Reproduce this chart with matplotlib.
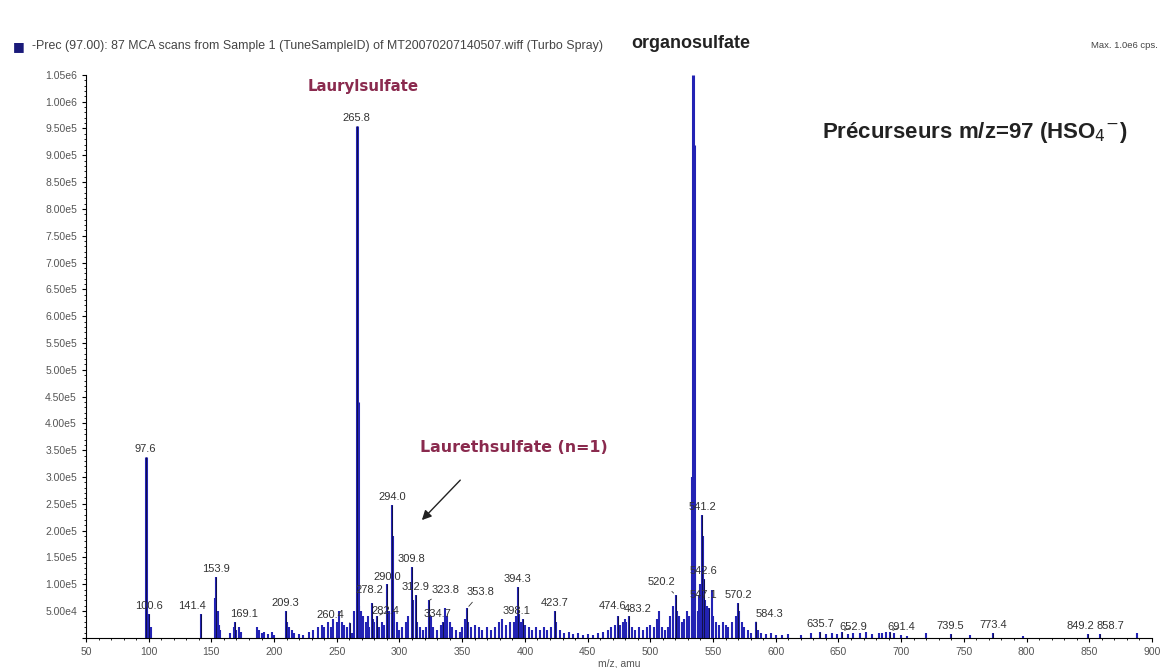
import matplotlib.pyplot as plt
from matplotlib.ticker import MultipleLocator, FuncFormatter

# precursor-ion spectrum (m/z, intensity in cps)
mz = [
    97.6, 98.6, 99.6, 100.6, 101.5,
    141.4, 152.9, 153.9, 154.9, 155.9, 157.0,
    165.0, 168.0, 169.1, 170.0, 172.0, 174.0,
    186.0, 188.0, 190.0, 192.0, 195.0, 198.0, 200.0,
    209.3, 210.3, 212.0, 214.0, 216.0, 220.0, 223.0, 228.0, 231.0, 235.0,
    238.0, 240.0, 243.0, 245.0, 247.0, 250.0, 252.0, 254.0, 256.0, 258.0,
    260.4, 262.0, 264.0,
    265.8, 266.8, 267.8, 269.0, 271.0, 273.0, 275.0, 276.0, 278.2, 279.0,
    280.0, 282.4, 284.0, 286.0, 288.0, 290.0, 291.0, 292.0, 294.0, 295.0,
    296.0, 298.0, 300.0, 302.0, 305.0, 307.0, 309.8, 310.8, 312.9, 314.0,
    316.0, 319.0, 321.0, 323.8, 324.8, 327.0, 330.0, 333.0, 334.7, 336.0,
    338.0, 340.0, 342.0, 345.0, 348.0, 350.0, 352.0, 353.8, 355.0, 357.0,
    360.0, 363.0, 366.0, 370.0, 373.0, 376.0, 379.0, 382.0, 385.0, 388.0,
    391.0, 393.0, 394.3, 395.3, 397.0, 398.1, 400.0, 403.0, 406.0, 409.0,
    412.0, 415.0, 418.0, 421.0, 423.7, 425.0, 428.0, 431.0, 435.0, 438.0,
    442.0, 446.0, 450.0, 454.0, 458.0, 462.0, 466.0, 469.0, 472.0, 474.6,
    476.0, 478.0, 480.0, 481.0, 483.2, 485.0, 488.0, 491.0, 494.0, 497.0,
    500.0, 503.0, 505.0, 507.0, 509.0, 512.0, 514.0, 516.0, 518.0, 520.2,
    521.0, 523.0, 525.0, 527.0, 529.0, 531.0, 533.0, 534.0, 534.5, 536.0,
    538.0, 539.0, 540.0, 541.2, 542.0, 542.6, 543.5, 545.0, 547.1, 549.0,
    550.0, 552.0, 555.0, 558.0, 560.0, 562.0, 565.0, 568.0, 570.2, 571.0,
    573.0, 575.0, 578.0, 580.0, 584.3, 586.0, 588.0, 592.0, 596.0, 600.0,
    605.0, 610.0, 620.0, 628.0, 635.7, 640.0, 645.0, 649.0, 652.9, 658.0,
    662.0, 667.0, 672.0, 677.0, 682.0, 685.0, 688.0, 691.4, 694.0, 700.0,
    705.0, 720.0, 739.5, 755.0, 773.4, 797.0, 849.2, 858.7, 888.0,
]
intensity = [
    3.38e5, 5.0e4, 3.0e4, 4.5e4, 2.0e4,
    4.5e4, 7.5e4, 1.14e5, 5.0e4, 2.5e4, 1.5e4,
    1.0e4, 2.0e4, 3.0e4, 1.5e4, 2.0e4, 1.2e4,
    2.0e4, 1.5e4, 1.0e4, 1.2e4, 8.0e3, 1.2e4, 6.0e3,
    5.0e4, 3.0e4, 2.0e4, 1.5e4, 1.0e4, 8.0e3, 6.0e3, 1.2e4, 1.5e4, 2.0e4,
    2.5e4, 2.0e4, 3.0e4, 2.0e4, 3.5e4, 3.0e4, 5.0e4, 3.0e4, 2.5e4, 2.0e4,
    2.8e4, 1.0e4, 5.0e4,
    9.55e5, 4.4e5, 6.0e4, 5.0e4, 4.0e4, 3.0e4, 4.0e4, 2.0e4, 6.5e4, 3.5e4,
    3.0e4, 4.0e4, 2.0e4, 3.0e4, 2.5e4, 1.0e5, 4.0e4, 5.0e4, 2.48e5, 1.9e5,
    5.0e4, 3.0e4, 1.5e4, 2.0e4, 3.0e4, 4.0e4, 1.32e5, 7.0e4, 8.0e4, 3.0e4,
    2.0e4, 1.5e4, 2.0e4, 7.0e4, 4.0e4, 2.0e4, 1.5e4, 2.5e4, 3.0e4, 5.5e4,
    4.0e4, 3.0e4, 2.0e4, 1.5e4, 1.2e4, 2.0e4, 3.5e4, 5.5e4, 3.0e4, 2.0e4,
    2.5e4, 2.0e4, 1.5e4, 2.0e4, 1.5e4, 2.0e4, 3.0e4, 3.5e4, 2.5e4, 3.0e4,
    3.0e4, 4.0e4, 9.5e4, 4.5e4, 3.0e4, 3.5e4, 2.5e4, 2.0e4, 1.5e4, 2.0e4,
    1.5e4, 2.0e4, 1.5e4, 2.0e4, 5.0e4, 3.0e4, 1.5e4, 1.0e4, 1.2e4, 8.0e3,
    1.0e4, 6.0e3, 8.0e3, 6.0e3, 1.0e4, 1.2e4, 1.5e4, 2.0e4, 2.5e4, 4.0e4,
    2.5e4, 3.0e4, 3.5e4, 3.0e4, 4.0e4, 2.0e4, 1.5e4, 2.0e4, 1.5e4, 2.0e4,
    2.5e4, 2.0e4, 3.5e4, 5.0e4, 2.0e4, 1.5e4, 2.0e4, 4.0e4, 6.0e4, 8.0e4,
    5.0e4, 4.0e4, 3.0e4, 3.5e4, 5.0e4, 4.0e4, 3.0e5, 1.05e6, 9.2e5, 2.0e5,
    5.0e4, 8.0e4, 1.0e5, 2.3e5, 1.9e5, 1.1e5, 7.0e4, 6.0e4, 5.5e4, 9.0e4,
    4.0e4, 3.0e4, 2.5e4, 3.0e4, 2.5e4, 2.0e4, 3.0e4, 4.0e4, 6.5e4, 5.0e4,
    3.0e4, 2.0e4, 1.5e4, 1.0e4, 3.0e4, 1.5e4, 1.0e4, 8.0e3, 1.0e4, 6.0e3,
    5.0e3, 8.0e3, 6.0e3, 1.0e4, 1.2e4, 8.0e3, 1.0e4, 8.0e3, 1.2e4, 8.0e3,
    1.0e4, 1.0e4, 1.2e4, 8.0e3, 1.0e4, 1.0e4, 1.2e4, 1.2e4, 1.0e4, 6.0e3,
    4.0e3, 1.0e4, 8.0e3, 6.0e3, 1.0e4, 4.0e3, 8.0e3, 8.0e3, 1.0e4,
]

# peaks carrying an m/z annotation
labeled_mz = [
    97.6, 100.6, 141.4, 153.9, 169.1, 209.3, 260.4, 265.8, 278.2, 282.4,
    290.0, 294.0, 309.8, 312.9, 323.8, 334.7, 353.8, 394.3, 398.1, 423.7,
    474.6, 483.2, 520.2, 541.2, 542.6, 547.1, 570.2, 584.3, 635.7, 652.9,
    691.4, 739.5, 773.4, 849.2, 858.7,
]

# label displacements in points (x, y) for crowded annotations
label_offsets = {
    100.6: (0, 2), 141.4: (-6, 2), 169.1: (6, 2), 260.4: (-14, 2),
    278.2: (-2, 6), 282.4: (6, 0), 323.8: (12, 4), 334.7: (-4, 2),
    353.8: (10, 8), 398.1: (-4, 2), 474.6: (-4, 4), 483.2: (6, 2),
    520.2: (-10, 6), 541.2: (0, 2), 542.6: (0, 2), 547.1: (-4, 6),
    584.3: (10, 2), 652.9: (8, 0), 691.4: (8, 0), 849.2: (-6, 2),
    858.7: (7, 2),
}
connected = {260.4, 282.4, 323.8, 353.8, 483.2, 520.2, 584.3, 652.9, 691.4}

header = ("-Prec (97.00): 87 MCA scans from Sample 1 (TuneSampleID) "
          "of MT20070207140507.wiff (Turbo Spray)")

plt.rcParams["font.family"] = ["Liberation Sans", "DejaVu Sans"]

fig = plt.figure(figsize=(11.65, 6.68), dpi=100)
ax = fig.add_axes([0.0738, 0.045, 0.915, 0.843])

blue = "#2323b4"
for x, y in zip(mz, intensity):
    lw = 2.2 if y > 3e5 else 1.5
    ax.vlines(x, 0, y, color=blue, lw=lw, zorder=2)

for x in labeled_mz:
    y = intensity[mz.index(x)]
    ax.vlines(x, 0, y, color="#10104a", lw=0.7, zorder=3)
    dx, dy = label_offsets.get(x, (0, 2))
    props = dict(arrowstyle="-", lw=0.6, color="#333333") if x in connected else None
    ax.annotate(f"{x:.1f}", xy=(x, y), xytext=(dx, dy), textcoords="offset points",
                ha="center", va="bottom", fontsize=8, color="#333333",
                arrowprops=props, zorder=4)

ax.set_xlim(50, 900)
ax.set_ylim(0, 1.05e6)
ax.spines["top"].set_visible(False)
ax.spines["right"].set_visible(False)
ax.xaxis.set_major_locator(MultipleLocator(50))
ax.xaxis.set_minor_locator(MultipleLocator(10))
ax.yaxis.set_major_locator(MultipleLocator(5e4))
ax.yaxis.set_minor_locator(MultipleLocator(1e4))
ax.yaxis.set_major_formatter(FuncFormatter(
    lambda v, p: "" if v == 0 else (f"{v/1e4:.2f}e4" if v < 1e5 else
                                    (f"{v/1e5:.2f}e5" if v < 1e6 else f"{v/1e6:.2f}e6"))))
ax.tick_params(axis="both", labelsize=7.5, labelcolor="#555555", length=3, width=0.8)
ax.tick_params(axis="both", which="minor", length=1.5, width=0.6)
ax.set_xlabel("m/z, amu", fontsize=7.5, color="#555555", labelpad=1)

# annotations for the ion families
ax.text(271, 1.028e6, "Laurylsulfate", ha="center", va="center",
        fontsize=10.8, fontweight="bold", color="#8a2a4e", family="DejaVu Sans")
ax.text(532.5, 1.108e6, "organosulfate", ha="center", va="center",
        fontsize=13, fontweight="bold", color="#222222", clip_on=False)
ax.text(759, 0.942e6, "Précurseurs m/z=97 (HSO$_4$$^{-}$)", ha="center", va="center",
        fontsize=16, fontweight="bold", color="#222222")
ax.text(391, 0.356e6, "Laurethsulfate (n=1)", ha="center", va="center",
        fontsize=11.4, fontweight="bold", color="#8a2a4e", family="DejaVu Sans")
ax.annotate("", xy=(316.3, 0.216e6), xytext=(350, 0.298e6),
            arrowprops=dict(arrowstyle="-|>", color="#222222", lw=1.0,
                            mutation_scale=14))

fig.text(13 / 1165, 1 - 46.5 / 668, "\u25a0", color="#1a1a7a", fontsize=9,
         va="center", ha="left", family="DejaVu Sans")
fig.text(32 / 1165, 1 - 46 / 668, header, fontsize=8.9, color="#444444", va="center")
fig.text(1158 / 1165, 1 - 46 / 668, "Max. 1.0e6 cps.", fontsize=6.8, color="#444444",
         va="center", ha="right")

fig.savefig("out.png", dpi=100)
